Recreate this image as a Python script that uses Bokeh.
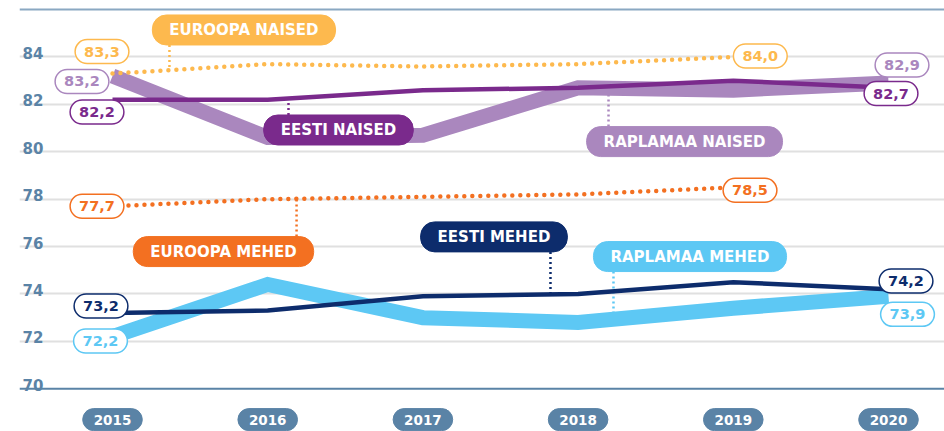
import numpy as np
from bokeh.plotting import figure
from bokeh.models import ColumnDataSource, Span, FixedTicker
from bokeh.core.properties import value
from bokeh.embed import file_html
from bokeh.resources import INLINE

# ---------------- data ----------------
years = [2015, 2016, 2017, 2018, 2019, 2020]
years_eu = [2015, 2016, 2017, 2018, 2019]

euroopa_naised = [83.3, 83.7, 83.6, 83.7, 84.0]
euroopa_mehed = [77.7, 78.0, 78.1, 78.2, 78.5]
eesti_naised = [82.2, 82.2, 82.6, 82.7, 83.0, 82.7]
raplamaa_naised = [83.2, 80.6, 80.7, 82.7, 82.6, 82.9]
eesti_mehed = [73.2, 73.3, 73.9, 74.0, 74.5, 74.2]
raplamaa_mehed = [72.2, 74.4, 73.0, 72.8, 73.4, 73.9]

series_names = ["EUROOPA NAISED", "EESTI NAISED", "RAPLAMAA NAISED",
                "EUROOPA MEHED", "EESTI MEHED", "RAPLAMAA MEHED"]
y_ticks = [70, 72, 74, 76, 78, 80, 82, 84]
year_labels = [str(y) for y in years]

# ---------------- styles / layout ----------------
C_EU_N = "#FDB94E"
C_EU_M = "#F37021"
C_EE_N = "#7A2A8C"
C_RA_N = "#AA87BE"
C_EE_M = "#0D2C6C"
C_RA_M = "#5DC8F4"
C_AXIS = "#5A83A6"
FONT = value("DejaVu Sans")

series = {
    "EUROOPA NAISED": (years_eu, euroopa_naised, C_EU_N),
    "EESTI NAISED": (years, eesti_naised, C_EE_N),
    "RAPLAMAA NAISED": (years, raplamaa_naised, C_RA_N),
    "EUROOPA MEHED": (years_eu, euroopa_mehed, C_EU_M),
    "EESTI MEHED": (years, eesti_mehed, C_EE_M),
    "RAPLAMAA MEHED": (years, raplamaa_mehed, C_RA_M),
}

# name-pill centre (x in years, y in value units) and leader x
name_layout = {
    "EUROOPA NAISED": (2015.847, 85.14, 2015.367),
    "EESTI NAISED": (2016.456, 80.92, 2016.134),
    "RAPLAMAA NAISED": (2018.686, 80.43, 2018.196),
    "EUROOPA MEHED": (2015.715, 75.79, 2016.186),
    "EESTI MEHED": (2017.458, 76.41, 2017.822),
    "RAPLAMAA MEHED": (2018.721, 75.58, 2018.228),
}
# value-label pixel offsets from first / last point
label_offsets = {
    "EUROOPA NAISED": ((-10.5, -22), (27, -1)),
    "EESTI NAISED": ((-15.5, 12.4), (2.5, 5.7)),
    "RAPLAMAA NAISED": ((-30.5, 5.5), (13.5, -18)),
    "EUROOPA MEHED": ((-15.5, 0), (16.7, 3)),
    "EESTI MEHED": ((-11.5, -7), (17.5, -8.3)),
    "RAPLAMAA MEHED": ((-12, 4.3), (19, 18)),
}

X_START, X_END = 2014.4008, 2020.3608
Y_START, Y_END = 68.198, 86.384
YEAR_ROW = 68.7

p = figure(width=944, height=431, output_backend="svg", toolbar_location=None,
           x_range=(X_START, X_END), y_range=(Y_START, Y_END),
           min_border_left=19, min_border_right=0, min_border_top=0, min_border_bottom=0)
p.xaxis.visible = False
p.yaxis.visible = False
p.outline_line_color = None
p.xgrid.grid_line_color = None
p.ygrid.ticker = FixedTicker(ticks=y_ticks[1:])
p.ygrid.grid_line_color = "#E0E0E0"
p.ygrid.grid_line_width = 2
p.background_fill_color = "white"
p.border_fill_color = "white"

p.add_layout(Span(location=86, dimension="width", line_color="#8AA8C2", line_width=2))
p.add_layout(Span(location=y_ticks[0], dimension="width", line_color=C_AXIS, line_width=2))

# y tick labels
p.text(x=[X_START] * len(y_ticks), y=y_ticks, text=[str(t) for t in y_ticks],
       x_offset=3, y_offset=-4, text_align="left", text_baseline="alphabetic",
       text_font=FONT, text_font_style="bold", text_font_size="15px", text_color=C_AXIS)

# leaders
lx, ly0, ly1, lc = [], [], [], []
for name in series_names:
    xs, ys, col = series[name]
    cx, cy, ldx = name_layout[name]
    lx.append(ldx)
    ly0.append(cy)
    ly1.append(float(np.interp(ldx, xs, ys)))
    lc.append(col)
p.segment(x0=lx, x1=lx, y0=ly0, y1=ly1, line_color=lc, line_width=2.5, line_dash="2 3")

# lines
def draw(name, width, dash=None):
    xs, ys, col = series[name]
    kw = dict(line_color=col, line_width=width, line_join="miter")
    if dash:
        kw.update(line_dash=dash, line_cap="round", line_join="round")
    p.line(xs, ys, **kw)

draw("RAPLAMAA NAISED", 15)
draw("RAPLAMAA MEHED", 15)
draw("EESTI NAISED", 4.5)
draw("EESTI MEHED", 4.5)
draw("EUROOPA NAISED", 4.5, "0 8")
draw("EUROOPA MEHED", 4.5, "0 8")

# value labels
vl = dict(x=[], y=[], text=[], color=[], dx=[], dy=[])
for name in series_names:
    xs, ys, col = series[name]
    for idx, off in zip((0, -1), label_offsets[name]):
        vl["x"].append(xs[idx])
        vl["y"].append(ys[idx])
        vl["text"].append(f"{ys[idx]:.1f}".replace(".", ","))
        vl["color"].append(col)
        vl["dx"].append(off[0])
        vl["dy"].append(off[1])
p.text(x="x", y="y", text="text", source=ColumnDataSource(vl),
       x_offset="dx", y_offset="dy", text_align="center", text_baseline="middle",
       text_font=FONT, text_font_style="bold", text_font_size="14.5px", text_color="color",
       background_fill_color="white", border_line_color="color", border_line_width=1.5,
       padding=(9, 7), border_radius=12)

# name pills
nl = dict(x=[], y=[], text=[], color=[])
for name in series_names:
    cx, cy, _ = name_layout[name]
    nl["x"].append(cx)
    nl["y"].append(cy)
    nl["text"].append(name)
    nl["color"].append(series[name][2])
p.text(x="x", y="y", text="text", source=ColumnDataSource(nl),
       text_align="center", text_baseline="middle",
       text_font=FONT, text_font_style="bold", text_font_size="15px", text_color="white",
       background_fill_color="color", border_line_color="color",
       padding=(17, 6), border_radius=14)

# year pills
p.text(x=years, y=[YEAR_ROW] * len(years), text=year_labels,
       text_align="center", text_baseline="middle",
       text_font=FONT, text_font_style="bold", text_font_size="13.5px", text_color="white",
       background_fill_color=C_AXIS, border_line_color=C_AXIS,
       padding=(11, 6), border_radius=11)

open("out.html", "w").write(file_html(p, INLINE))
